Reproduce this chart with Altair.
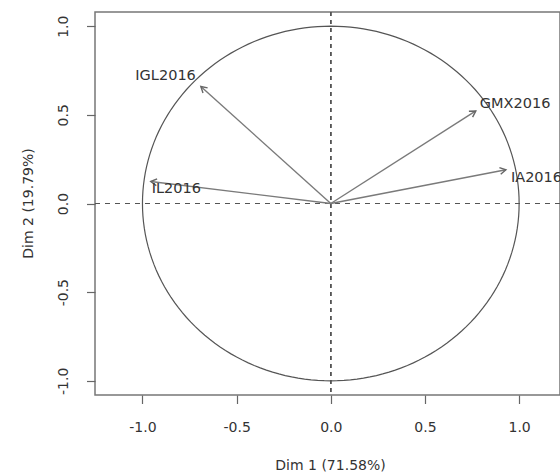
import altair as alt
import pandas as pd

# ---- data ----
variables = ["IGL2016", "GMX2016", "IA2016", "IL2016"]
dim1 = [-0.690, 0.770, 0.930, -0.956]
dim2 = [0.660, 0.522, 0.190, 0.124]
tick_values = [-1.0, -0.5, 0.0, 0.5, 1.0]
x_title = "Dim 1 (71.58%)"
y_title = "Dim 2 (19.79%)"

df = pd.DataFrame({"var": variables, "x": dim1, "y": dim2})
df["zero"] = 0.0

FONT = "DejaVu Sans"
xs = alt.Scale(domain=[-1.252, 1.217], nice=False, zero=False)
ys = alt.Scale(domain=[-1.08, 1.08], nice=False, zero=False)
LABEL_EXPR = "replace(format(datum.value, '.1f'), '\u2212', '-')"

xaxis = alt.Axis(values=tick_values, labelExpr=LABEL_EXPR, grid=False, domain=False,
                 tickSize=8.5, tickColor="#666", tickWidth=1.2,
                 labelFont=FONT, labelFontSize=14, labelColor="#333",
                 labelBaseline="top", labelPadding=17,
                 title=x_title, titleFont=FONT, titleFontSize=14, titleFontWeight="normal",
                 titleColor="#333", titleX=235, titleY=74, titleAlign="center",
                 titleBaseline="alphabetic")
yaxis = alt.Axis(values=tick_values, labelExpr=LABEL_EXPR, grid=False, domain=False,
                 tickSize=8.5, tickColor="#666", tickWidth=1.2,
                 labelFont=FONT, labelFontSize=14, labelColor="#333",
                 labelAngle=270, labelAlign="center", labelBaseline="alphabetic",
                 labelPadding=19,
                 title=y_title, titleFont=FONT, titleFontSize=14, titleFontWeight="normal",
                 titleColor="#333", titleAngle=270, titleX=-63, titleY=191,
                 titleAlign="center", titleBaseline="alphabetic")

base = alt.Chart(df)

# unit circle (geometric reference)
circle = alt.Chart(alt.sequence(0, 361, 2, as_="t")).transform_calculate(
    cx="cos(datum.t*PI/180)", cy="sin(datum.t*PI/180)"
).mark_line(color="#555", strokeWidth=1.2).encode(
    x=alt.X("cx:Q", scale=xs, axis=xaxis),
    y=alt.Y("cy:Q", scale=ys, axis=yaxis),
    order="t:Q",
)

vline = alt.Chart(df).mark_rule(color="#555", strokeDash=[4, 4], strokeWidth=1.1).encode(
    x=alt.X(datum=0, scale=xs)
)
hline = alt.Chart(df).mark_rule(color="#555", strokeDash=[5, 5], strokeWidth=1.1).encode(
    y=alt.Y(datum=0, scale=ys)
)

shafts = base.mark_rule(color="#7a7a7a", strokeWidth=1.4).encode(
    x=alt.X("zero:Q", scale=xs), x2="x:Q",
    y=alt.Y("zero:Q", scale=ys), y2="y:Q",
)

heads = base.transform_calculate(
    ang="(atan2(datum.x*188.3, datum.y*177.2)*180/PI + 360) % 360"
).mark_point(shape="M -0.5 0.87 L 0 0 L 0.5 0.87", filled=False, size=190,
             color="#666", strokeWidth=1.4, opacity=1).encode(
    x=alt.X("x:Q", scale=xs),
    y=alt.Y("y:Q", scale=ys),
    angle=alt.Angle("ang:Q", scale=None),
)

label_style = {
    "IGL2016": dict(align="right", dx=-5, dy=-6),
    "GMX2016": dict(align="left", dx=4, dy=-3),
    "IA2016": dict(align="left", dx=5, dy=12),
    "IL2016": dict(align="left", dx=1, dy=11),
}
labels = []
for v in variables:
    st = label_style[v]
    labels.append(
        base.transform_filter(alt.datum["var"] == v).mark_text(
            font=FONT, fontSize=14.5, color="#333", baseline="alphabetic", **st
        ).encode(x=alt.X("x:Q", scale=xs), y=alt.Y("y:Q", scale=ys), text="var:N")
    )

chart = alt.layer(circle, vline, hline, shafts, heads, *labels).properties(
    width=465, height=383,
    autosize=alt.AutoSizeParams(type="none"),
    padding={"left": 95, "top": 12, "right": 0, "bottom": 80},
).configure(background="white").configure_view(stroke="#777", strokeWidth=1.5)

chart.save("out.html", embed_options={"renderer": "svg", "actions": False})
